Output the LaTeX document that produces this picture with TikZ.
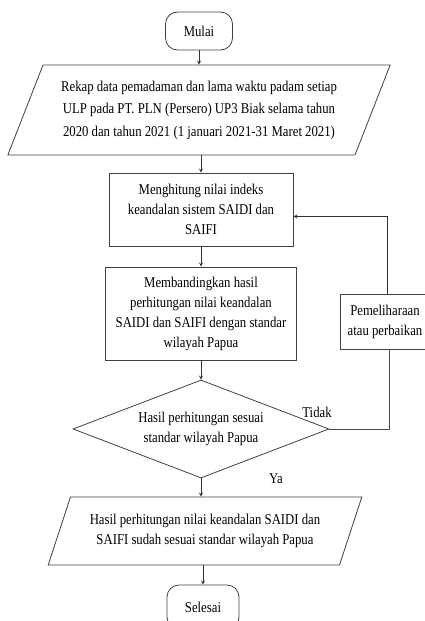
\documentclass[tikz,border=0pt]{standalone}
\usepackage{fontspec}
\setmainfont[FakeStretch=0.85]{Liberation Serif}
\usetikzlibrary{shapes.geometric, arrows}
\tikzstyle{startstop} = [rectangle, rounded corners=12pt, minimum width=67pt, minimum height=38pt, text centered, draw=black!75]
\tikzstyle{io} = [trapezium, trapezium left angle=64, trapezium right angle=116, trapezium stretches=true, text centered, draw=black!75, align=center]
\tikzstyle{process} = [rectangle, text centered, draw=black!75, align=center]
\tikzstyle{decision} = [diamond, aspect=2.6, text centered, draw=black!75, align=center, inner sep=0pt]
\tikzstyle{arrow} = [line width=0.8pt, black!80, ->, >=stealth]
\tikzstyle{line} = [line width=0.8pt, black!70]

\begin{document}
\begin{tikzpicture}[x=1pt, y=1pt, node distance=100pt, font=\fontsize{15}{20}\selectfont, line width=0.8pt]
\useasboundingbox (0,0) rectangle (425,-621);

% Nodes
\node (mulai) [startstop] at (199,-31) {Mulai};
\node (rekap) [io, below of=mulai, yshift=21pt, minimum width=383pt, minimum height=90pt, font=\fontsize{15}{22.5}\selectfont] {Rekap data pemadaman dan lama waktu padam setiap \\ ULP pada PT. PLN (Persero) UP3 Biak selama tahun \\ 2020 dan tahun 2021 (1 januari 2021-31 Maret 2021)};
\node (hitung) [process, below of=rekap, yshift=0.5pt, xshift=2pt, minimum width=184pt, minimum height=73pt] {Menghitung nilai indeks \\ keandalan sistem SAIDI dan \\ SAIFI};
\node (banding) [process, below of=hitung, yshift=-4pt, minimum width=191pt, minimum height=93pt] {Membandingkan hasil \\ perhitungan nilai keandalan \\ SAIDI dan SAIFI dengan standar \\ wilayah Papua};
\node (cek) [decision, below of=banding, yshift=-15.5pt, minimum width=256pt, minimum height=98pt] {Hasil perhitungan sesuai \\ standar wilayah Papua};
\node (hasil) [io, below of=cek, yshift=-2pt, xshift=4pt, minimum width=315pt, minimum height=68pt] {Hasil perhitungan nilai keandalan SAIDI dan \\ SAIFI sudah sesuai standar wilayah Papua};
\node (selesai) [startstop, below of=hasil, yshift=24pt, xshift=-2pt, minimum width=72pt, minimum height=44pt] {Selesai};
\node (perbaikan) [process, right of=banding, xshift=84pt, yshift=-8pt, minimum width=89pt, minimum height=55pt] {Pemeliharaan \\ atau perbaikan};

% Labels
\node (tidak) [above left, xshift=6pt, yshift=8pt] at (cek.east) {Tidak};
\node (ya) [xshift=75pt, yshift=0pt] at (cek.south) {Ya};

% Arrows
\draw [arrow] (mulai.south) -- (rekap.north -| mulai.south);
\draw [arrow] (rekap.south -| hitung.north) -- (hitung.north);
\draw [arrow] (hitung.south) -- (banding.north);
\draw [arrow] (banding.south) -- (cek.north);
\draw [line] (cek.east) -| ([xshift=4pt]perbaikan.south);
\draw [arrow] ([xshift=2pt]perbaikan.north) |- ([yshift=-7pt]hitung.east);
\draw [arrow] (cek.south) -- (hasil.north -| cek.south);
\draw [arrow] (hasil.south -| selesai.north) -- (selesai.north);

\end{tikzpicture}
\end{document}
